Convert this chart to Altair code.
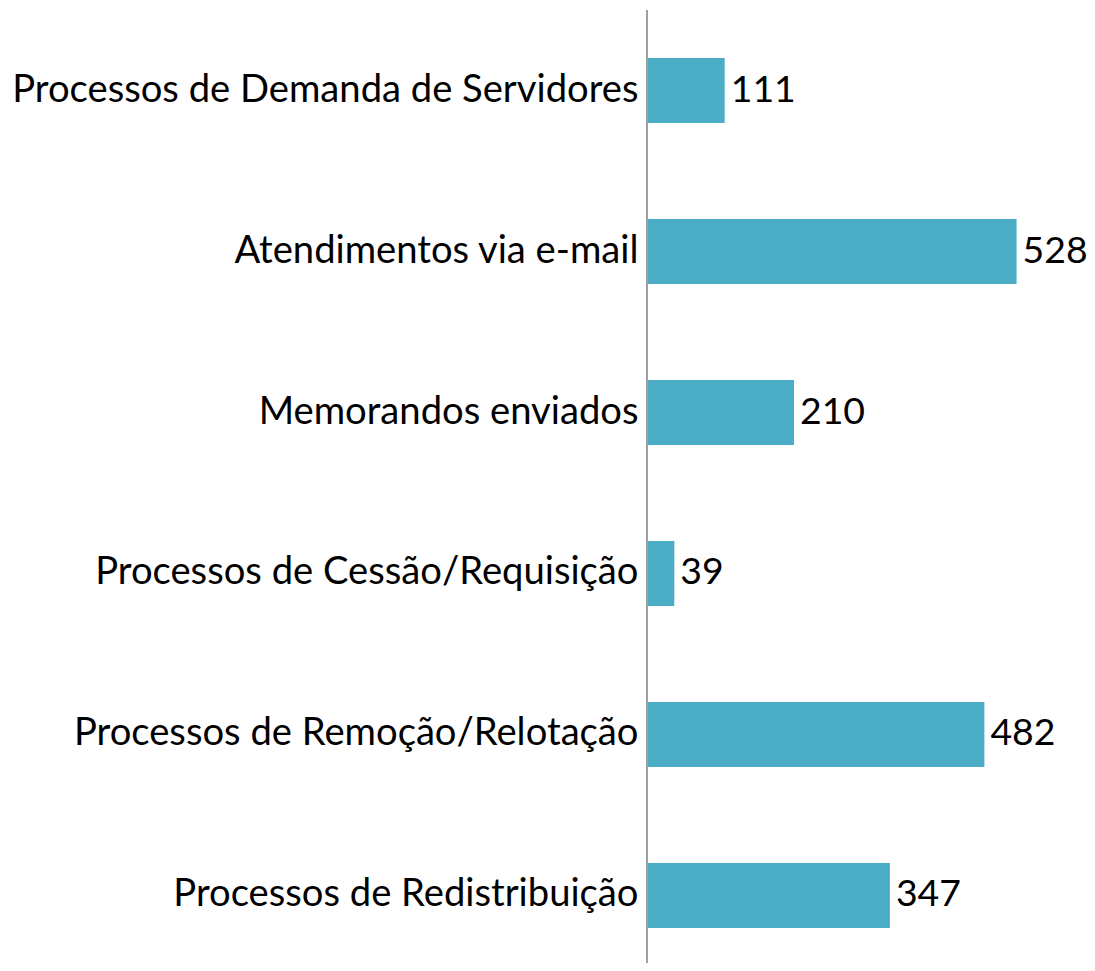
import altair as alt
import pandas as pd

categories = [
    "Processos de Demanda de Servidores",
    "Atendimentos via e-mail",
    "Memorandos enviados",
    "Processos de Cessão/Requisição",
    "Processos de Remoção/Relotação",
    "Processos de Redistribuição",
]
values = [111, 528, 210, 39, 482, 347]

df = pd.DataFrame({"cat": categories, "val": values})

W = 440
H = 955
FONT = "Lato"
FS = 38.2

y_enc = alt.Y(
    "cat:N",
    sort=categories,
    scale=alt.Scale(range=[50, 920], paddingInner=0.596, paddingOuter=0),
    axis=alt.Axis(
        title=None, domain=False, ticks=False, labelPadding=9,
        labelFont=FONT, labelFontSize=FS, labelColor="#000000",
        labelLimit=0,
    ),
)
x_enc = alt.X("val:Q", scale=alt.Scale(domain=[0, 628.6]), axis=None)

bars = alt.Chart(df).mark_bar(color="#4BACC6").encode(x=x_enc, y=y_enc)
text = alt.Chart(df).mark_text(
    align="left", baseline="middle", dx=6, font=FONT, fontSize=37.4, color="#000000"
).encode(x=x_enc, y=y_enc, text="val:Q")

rule = alt.Chart(df).mark_rule(color="#a0a0a0", strokeWidth=1.5).encode(
    x=alt.value(0), y=alt.value(2), y2=alt.value(H)
)

chart = alt.layer(bars, text, rule).properties(
    width=W, height=H,
    padding={"left": 639, "top": 0, "right": 0, "bottom": 0},
    autosize=alt.AutoSizeParams(type="none"),
).configure_view(stroke=None)

chart.save("out.html", embed_options={"renderer": "svg", "actions": False})
